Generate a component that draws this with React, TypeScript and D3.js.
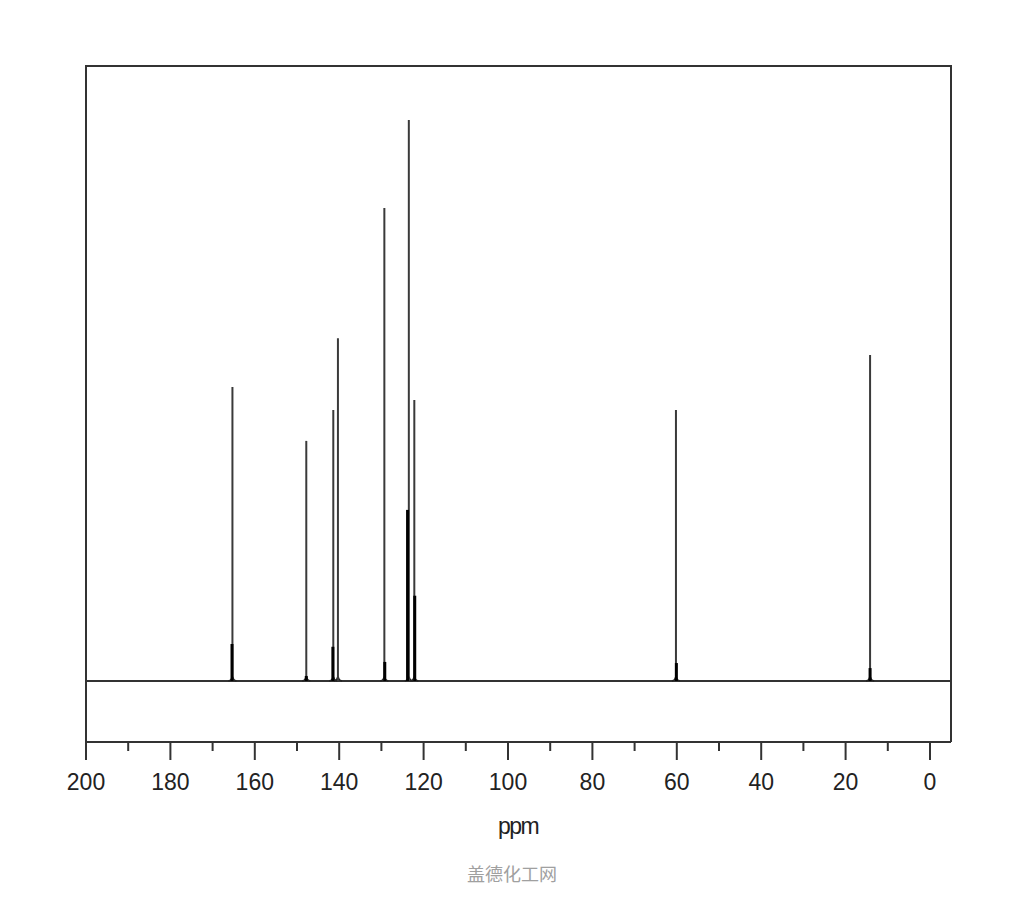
import { useEffect, useRef } from "react";
import * as d3 from "d3";

// main peaks: chemical shift (ppm) and relative intensity
const peakShifts = [165.3, 147.8, 141.4, 140.3, 129.3, 123.5, 122.2, 60.2, 14.2];
const peakHeights = [52.4, 42.8, 48.3, 61.1, 84.3, 100, 50.1, 48.3, 58.1];

// darker shoulder segments seen at the foot of some peaks
const shoulderShifts = [165.4, 147.8, 141.5, 129.2, 123.8, 122.1, 60.1, 14.2];
const shoulderHeights = [6.6, 0.9, 6.1, 3.4, 30.5, 15.2, 3.2, 2.3];

const majorTicks = [200, 180, 160, 140, 120, 100, 80, 60, 40, 20, 0];
const minorTicks = [190, 170, 150, 130, 110, 90, 70, 50, 30, 10];

export default function App() {
  const svgRef = useRef<SVGSVGElement>(null);

  useEffect(() => {
    const width = 1024;
    const height = 900;
    const left = 86;
    const right = 951;
    const top = 66;
    const axisY = 742;
    const baseY = 681;

    const svg = d3.select(svgRef.current);
    svg.selectAll("*").remove();
    svg.attr("width", width).attr("height", height);

    svg.append("rect").attr("width", width).attr("height", height).attr("fill", "#fff");

    const x = d3.scaleLinear().domain([200, 0]).range([86, 930]);
    const y = d3.scaleLinear().domain([0, 100]).range([baseY, 120]);

    // frame
    svg
      .append("path")
      .attr("d", `M${left},${axisY}V${top}H${right}V${axisY}`)
      .attr("fill", "none")
      .attr("stroke", "#333")
      .attr("stroke-width", 2);

    // bottom axis
    const axis = svg.append("g").attr("transform", `translate(0,${axisY})`);
    axis
      .append("line")
      .attr("x1", left)
      .attr("x2", right)
      .attr("stroke", "#333")
      .attr("stroke-width", 2);
    axis
      .selectAll(".major")
      .data(majorTicks)
      .join("line")
      .attr("x1", (d) => x(d))
      .attr("x2", (d) => x(d))
      .attr("y2", 18)
      .attr("stroke", "#333")
      .attr("stroke-width", 2);
    axis
      .selectAll(".minor")
      .data(minorTicks)
      .join("line")
      .attr("x1", (d) => x(d))
      .attr("x2", (d) => x(d))
      .attr("y2", 9)
      .attr("stroke", "#333")
      .attr("stroke-width", 2);
    axis
      .selectAll("text")
      .data(majorTicks)
      .join("text")
      .attr("x", (d) => x(d))
      .attr("y", 48)
      .attr("text-anchor", "middle")
      .attr("font-family", "Liberation Sans, Arial, sans-serif")
      .attr("font-size", 23)
      .attr("fill", "#222")
      .text((d) => d);

    // baseline
    svg
      .append("line")
      .attr("x1", left)
      .attr("x2", right)
      .attr("y1", baseY)
      .attr("y2", baseY)
      .attr("stroke", "#333")
      .attr("stroke-width", 2);

    // small flare at the foot of each peak
    const foot = d3
      .line<[number, number]>()
      .x((d) => d[0])
      .y((d) => d[1])
      .curve(d3.curveBasis);
    svg
      .selectAll(".foot")
      .data(peakShifts)
      .join("path")
      .attr("d", (d) => {
        const cx = x(d);
        return foot([
          [cx - 4, baseY],
          [cx - 1, baseY - 1],
          [cx, baseY - 6],
          [cx + 1, baseY - 1],
          [cx + 4, baseY],
        ]);
      })
      .attr("fill", "none")
      .attr("stroke", "#222")
      .attr("stroke-width", 1.5);

    // peaks
    svg
      .selectAll(".peak")
      .data(peakShifts)
      .join("line")
      .attr("x1", (d) => x(d))
      .attr("x2", (d) => x(d))
      .attr("y1", baseY)
      .attr("y2", (d, i) => y(peakHeights[i]))
      .attr("stroke", "#3a3a3a")
      .attr("stroke-width", 2);

    svg
      .selectAll(".shoulder")
      .data(shoulderShifts)
      .join("line")
      .attr("x1", (d) => x(d))
      .attr("x2", (d) => x(d))
      .attr("y1", baseY)
      .attr("y2", (d, i) => y(shoulderHeights[i]))
      .attr("stroke", "#000")
      .attr("stroke-width", 3);

    // axis title
    svg
      .append("text")
      .attr("x", 518)
      .attr("y", 834)
      .attr("text-anchor", "middle")
      .attr("font-family", "Liberation Sans, Arial, sans-serif")
      .attr("font-size", 23)
      .attr("letter-spacing", -1.5)
      .attr("fill", "#222")
      .text("ppm");

    // watermark
    svg
      .append("text")
      .attr("x", 512)
      .attr("y", 881)
      .attr("text-anchor", "middle")
      .attr("font-family", "Noto Sans CJK SC, sans-serif")
      .attr("font-size", 18)
      .attr("fill", "#a0a0a0")
      .text("盖德化工网");
  }, []);

  return <svg ref={svgRef} style={{ position: "absolute", left: 0, top: 0 }}></svg>;
}
